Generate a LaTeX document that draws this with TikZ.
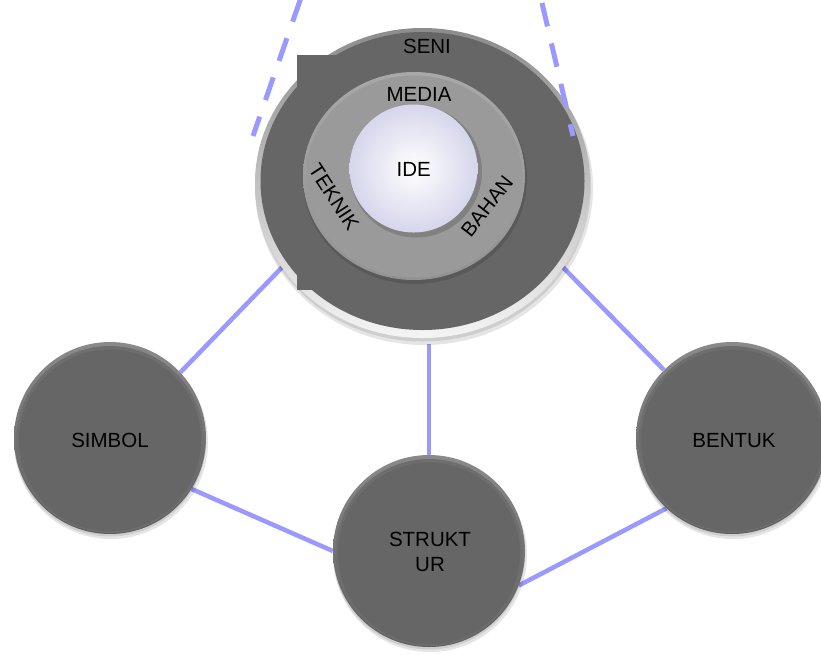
\documentclass[tikz,border=0pt]{standalone}
\usepackage{fontspec}
\setmainfont{Liberation Sans}
\usetikzlibrary{shapes.geometric,calc}
\pgfdeclarelayer{bg}
\pgfsetlayers{bg,main}
\definecolor{ringdark}{HTML}{666666}
\definecolor{ringmid}{HTML}{9A9A9A}
\definecolor{linkblue}{HTML}{9999FF}
\definecolor{lav}{HTML}{D6D6EC}
\definecolor{rimtop}{HTML}{8C8C8C}
\definecolor{rimbot}{HTML}{F4F4F4}
\definecolor{balltop}{HTML}{8A8A8A}
\definecolor{ballbot}{HTML}{5E5E5E}
\definecolor{ballmid}{HTML}{6E6E6E}
\begin{document}
\begin{tikzpicture}[x=1pt,y=-1pt,
  lbl/.style={font=\fontsize{20.5}{25}\selectfont, text=black, inner sep=0pt, align=center},
  link/.style={draw=linkblue, line width=4.5pt},
  dashlink/.style={draw=linkblue, line width=5pt, dash pattern=on 24pt off 17.5pt},
  ball/.style={circle, minimum size=192pt, inner sep=0pt, draw=none, shade, top color=balltop, bottom color=ballbot},
  shadowblob/.style={fill=black, opacity=0.10}]
\useasboundingbox (0,0) rectangle (821,654);

% ---- big circle (SENI) ----
\fill[shadowblob] (424,188) ellipse [x radius=169, y radius=157];
\fill[shadowblob] (423,185.5) ellipse [x radius=168, y radius=156];
\node[ellipse, minimum width=335pt, minimum height=310pt, inner sep=0pt,
      shade, top color=rimtop, bottom color=rimbot] (big) at (422.5,183) {};
\fill[ringdark] (422.5,181) ellipse [x radius=162, y radius=149];
\fill[ringdark] (297,55) rectangle (420,290);
% middle ring
\fill[black, opacity=0.12] (415,179) ellipse [x radius=112, y radius=105];
\node[ellipse, minimum width=222pt, minimum height=208pt, inner sep=0pt,
      shade, top color={rgb,255:red,168;green,168;blue,168}, bottom color={rgb,255:red,146;green,146;blue,146}] (mid) at (414,176) {};
\fill[ringmid] (414,176.5) ellipse [x radius=108, y radius=101];
% inner shadow + white core
\fill[black, opacity=0.16] (416,171.5) circle [radius=66];
\node[circle, minimum size=128pt, inner sep=0pt, shade, inner color=white, outer color=lav] (idecirc) at (413.5,168.5) {};

\node[lbl] (ide) at (413.7,169) {IDE};
\node[lbl] (seni) at (427,46) {SENI};
\node[lbl] (media) at (419,94.5) {MEDIA};
\node[lbl, rotate=-57] (teknik) at (334,197) {TEKNIK};
\node[lbl, rotate=52] (bahan) at (487,206) {BAHAN};

% ---- small circles ----
\foreach \cx/\cy/\nm in {110/438/simbol, 429/551/struk, 732/438/bentuk}{
  \fill[shadowblob] (\cx+1,\cy+4) circle [radius=97];
  \fill[shadowblob] (\cx,\cy+2.5) circle [radius=96];
  \node[ball] (\nm) at (\cx,\cy) {};
  \fill[ballmid] (\cx,\cy+1.5) circle [radius=93.5];
  \fill[ringdark] (\cx,\cy+2.5) circle [radius=91];
}
\node[lbl] (tsimbol) at (110,440.5) {SIMBOL};
\node[lbl] (tbentuk) at (734,441) {BENTUK};
\node[lbl] (tstruk) at (430,551.7) {STRUKT\\UR};

% ---- connectors ----
\begin{pgfonlayer}{bg}
  \draw[link] (simbol.43) -- (big.211);
  \draw[link] (simbol.-32) -- (struk.180);
  \draw[link] (struk.-21) -- (bentuk.227);
  \draw[link] (big.329) -- (bentuk.135);
  \draw[link, shorten >=6pt] (struk.north) -- (struk.north |- big.south);
\end{pgfonlayer}

% ---- dashed lines ----
\coordinate (dla) at (300.5,-1);
\coordinate (dlb) at (253,136);
\coordinate (dra) at (542,3);
\coordinate (drb) at (573,136);
\draw[dashlink] (dla) -- (dlb);
\draw[dashlink] (dra) -- (drb);
\end{tikzpicture}
\end{document}
